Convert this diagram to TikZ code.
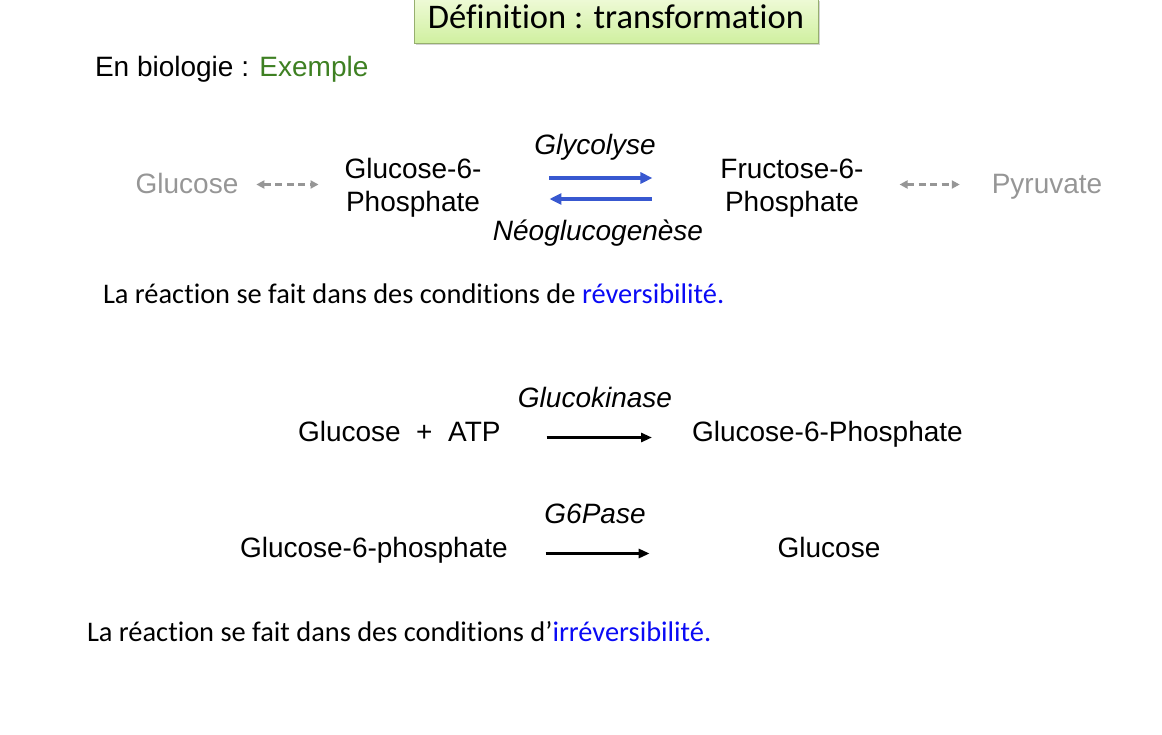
\documentclass[tikz,border=0pt]{standalone}
\usepackage{fontspec}
\setmainfont{Liberation Sans}
\newfontfamily\calibri[Ligatures={NoCommon,NoRare,NoContextual}]{Carlito}
\usetikzlibrary{arrows.meta,positioning,shadows}
\definecolor{myblue}{RGB}{56,88,208}
\definecolor{mygreen}{RGB}{62,128,34}
\definecolor{mygrey}{RGB}{150,150,150}
\definecolor{mylink}{RGB}{10,10,245}
\definecolor{boxtop}{RGB}{238,250,214}
\definecolor{boxbot}{RGB}{208,240,160}
\definecolor{boxline}{RGB}{150,175,110}

\begin{document}
\begin{tikzpicture}[
    x=1pt, y=-1pt, font=\fontsize{28}{33}\selectfont,
    txt/.style={inner sep=0pt, outer sep=0pt, anchor=base},
    molecule/.style={txt, text height=21pt, text depth=6pt},
    pair/.style={inner sep=0pt, outer sep=0pt, align=center},
    faint/.style={molecule, text=mygrey},
    enzyme/.style={txt, font=\fontsize{28}{33}\selectfont\itshape},
    remark/.style={txt, anchor=base west, font=\fontsize{28.4}{33}\selectfont\calibri},
    title/.style={draw=boxline, line width=0.8pt, top color=boxtop, bottom color=boxbot,
                  minimum width=404pt, inner sep=0pt, text height=29pt, text depth=15pt,
                  font=\fontsize{34.5}{40}\selectfont\calibri,
                  drop shadow={shadow xshift=2pt, shadow yshift=-2pt, opacity=0.35}},
    maybe/.style={{Triangle[length=8pt,width=8pt]}-{Triangle[length=8pt,width=8pt]},
                  mygrey, line width=2.6pt, dash pattern=on 7pt off 4.5pt},
    forward/.style={-{Triangle[length=12pt,width=11pt]}, myblue, line width=3.6pt},
    backward/.style={{Triangle[length=12pt,width=11pt]}-, myblue, line width=3.6pt},
    oneway/.style={-{Triangle[length=11pt,width=9pt]}, black, line width=3pt},
  ]
  \useasboundingbox (0,0) rectangle (1162,734);

  % ------------------------------------------------------------------ heading
  \node[title] (def) at (616,21) {Définition : transformation};
  \node[txt, anchor=base west] (bio) at (95,76) {En biologie : \textcolor{mygreen}{Exemple}};

  % ------------------------------------------------------------------ reversible step
  \node[faint] (glc) at (187,193) {Glucose};
  \node[pair] (g6p) at (413,188) {Glucose-6-\\Phosphate};
  \node[pair] (f6p) at (792,188) {Fructose-6-\\Phosphate};
  \node[faint] (pyr) at (1047,193) {Pyruvate};
  \node[enzyme] (gly) at (595,154) {Glycolyse};
  \node[enzyme] (neo) at (598,240) {Néoglucogenèse};

  \draw[maybe, shorten <=18pt, shorten >=26pt] ([yshift=1pt]glc.east) -- ([yshift=1pt]g6p.west |- glc.east);
  \draw[maybe, shorten <=36pt, shorten >=32pt] ([yshift=1pt]f6p.east |- pyr.west) -- ([yshift=1pt]pyr.west);
  \draw[forward, shorten <=68pt, shorten >=68pt] ([yshift=10pt]g6p.east) -- ([yshift=10pt]f6p.west);
  \draw[backward, shorten <=68pt, shorten >=68pt] ([yshift=-11pt]g6p.east) -- ([yshift=-11pt]f6p.west);

  \node[remark] (rev) at (103,303) {La réaction se fait dans des conditions de \textcolor{mylink}{réversibilité.}};

  % ------------------------------------------------------------------ irreversible steps
  \node[molecule, anchor=base west] (gatp) at (298,441) {Glucose \ + \ ATP};
  \node[molecule, anchor=base west] (g6pa) at (692,441) {Glucose-6-Phosphate};
  \node[enzyme] (gk) at (595,407) {Glucokinase};
  \draw[oneway, shorten <=46pt, shorten >=40pt] ([yshift=-4pt]gatp.east) -- ([yshift=-4pt]g6pa.west);

  \node[molecule, anchor=base west] (g6pb) at (240,557) {Glucose-6-phosphate};
  \node[molecule] (glcb) at (829,557) {Glucose};
  \node[enzyme] (g6pase) at (595,523) {G6Pase};
  \draw[oneway, shorten <=38pt, shorten >=128pt] ([yshift=-4pt]g6pb.east) -- ([yshift=-4pt]glcb.west);

  \node[remark] (irr) at (87,641) {La réaction se fait dans des conditions d’\textcolor{mylink}{irréversibilité.}};

\end{tikzpicture}
\end{document}
